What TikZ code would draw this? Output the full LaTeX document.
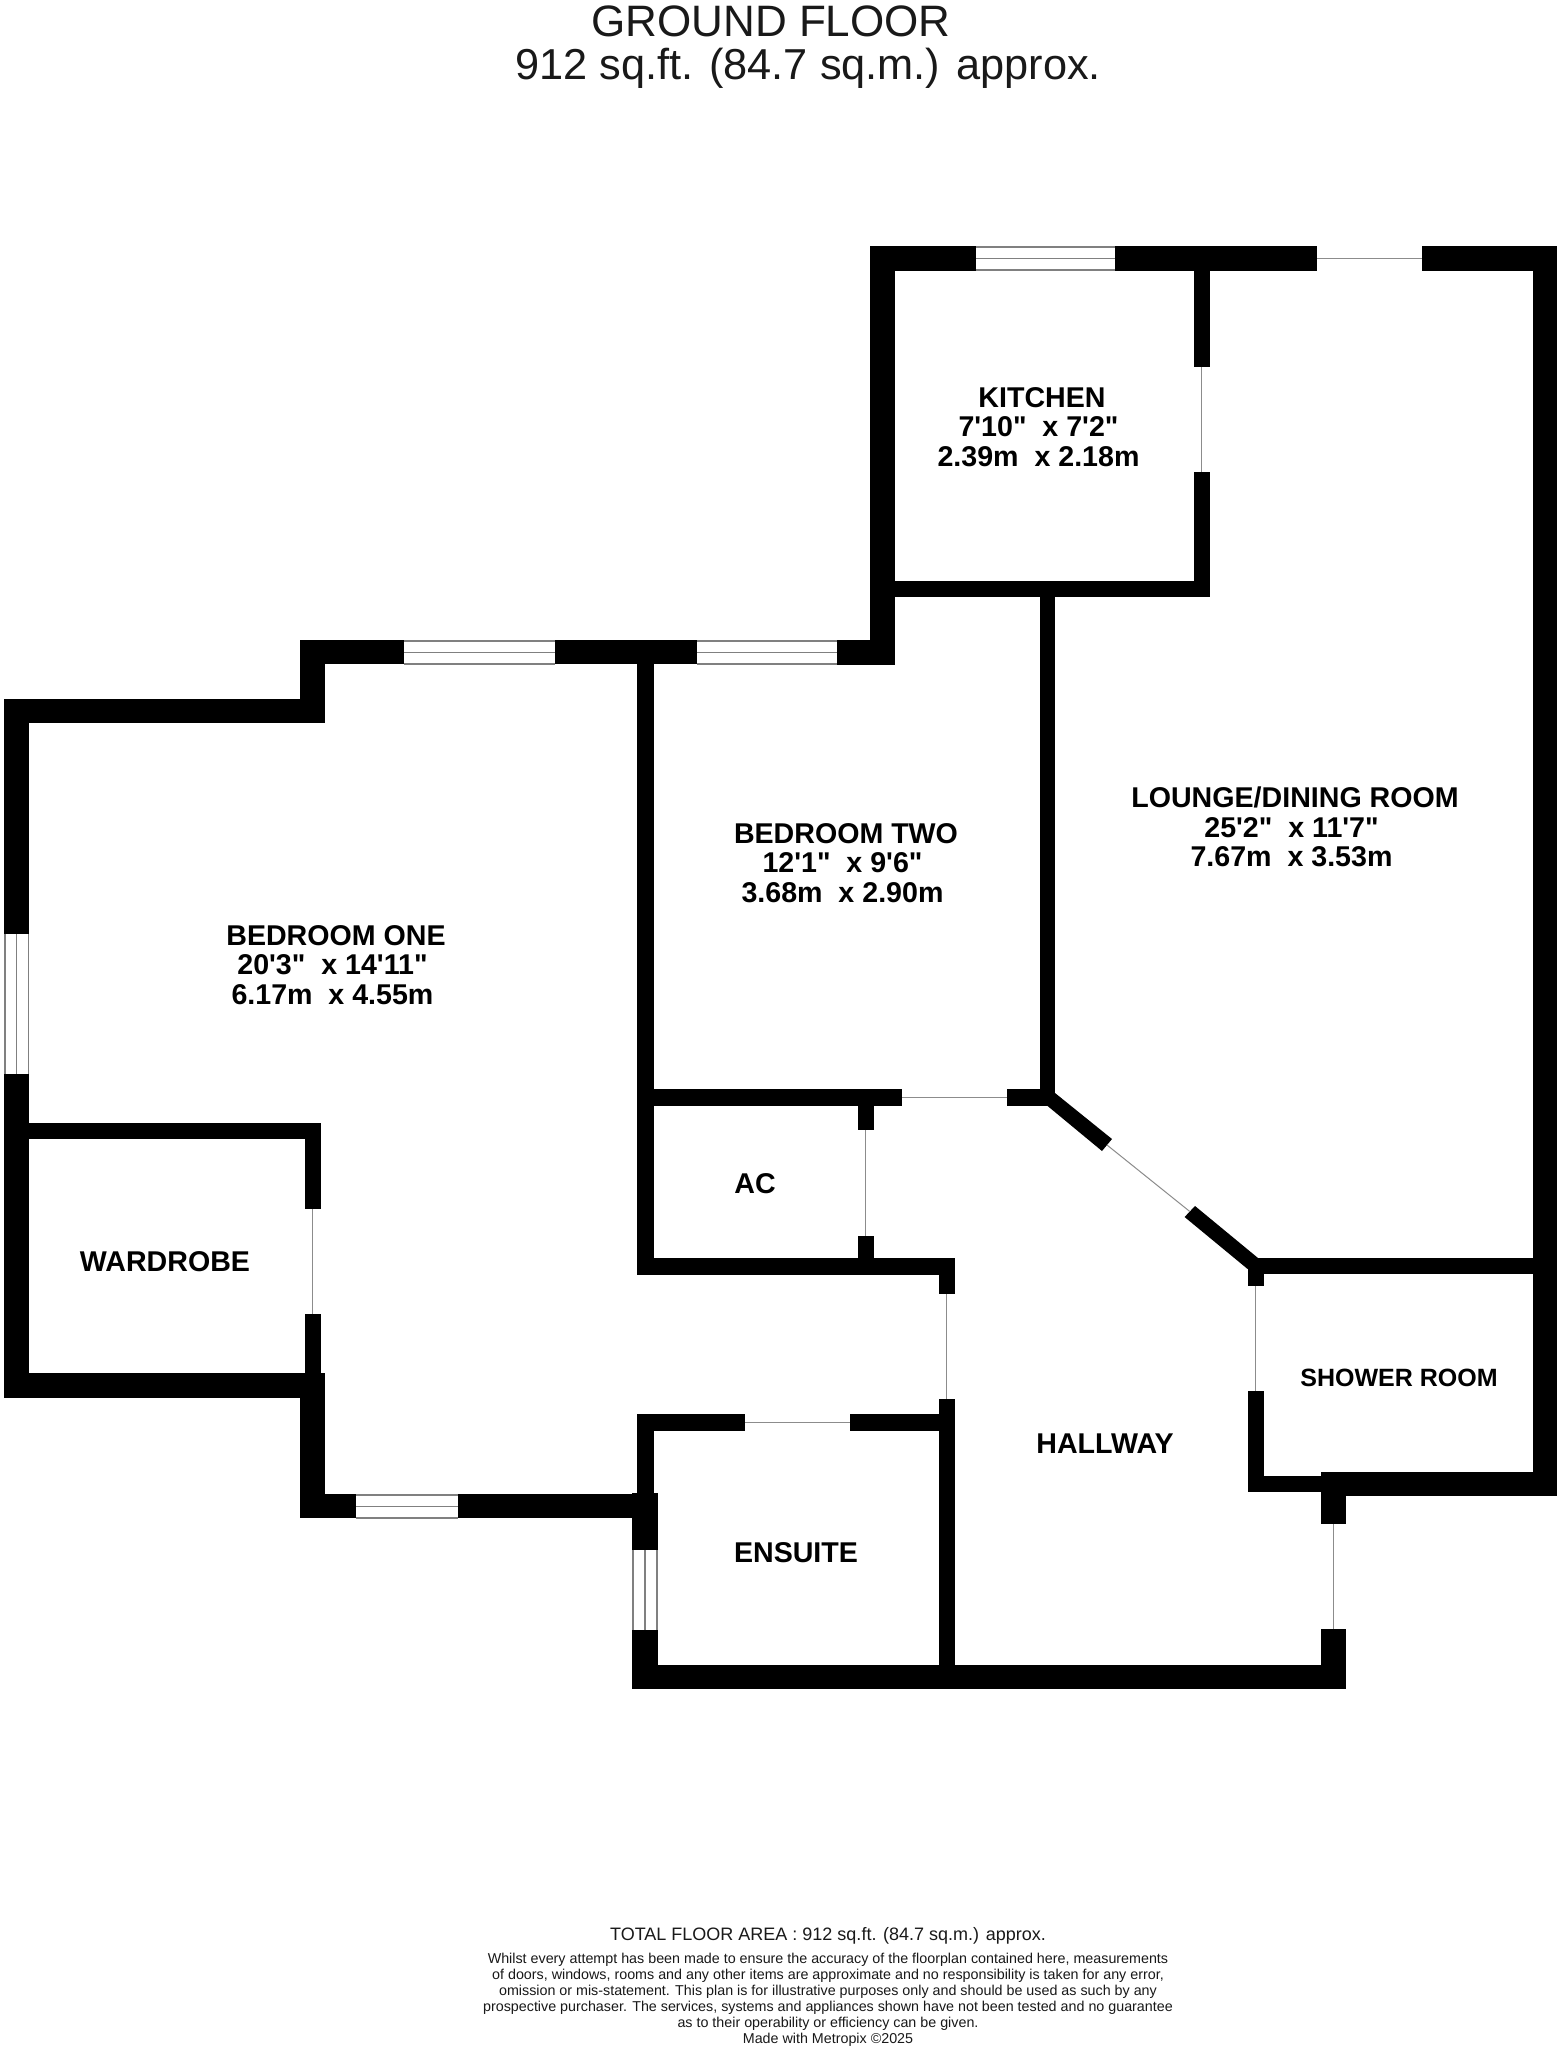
\documentclass[tikz,border=0pt]{standalone}
\usepackage{fontspec}
\newfontfamily\planfont{Liberation Sans}
\newfontfamily\roomfont{Liberation Sans Bold}
\newcommand{\roomtext}{\roomfont\fontsize{28.6}{29.4}\selectfont}
\newcommand{\smallroomtext}{\roomfont\fontsize{25}{29.4}\selectfont}
\tikzset{
  wall/.style={fill=black,draw=none},
  glass/.style={draw=black!50,line width=1.4pt},
  doorline/.style={draw=black!45,line width=1pt},
  label/.style={inner sep=0pt,outer sep=0pt,align=center,text=black,font=\roomtext},
  smalllabel/.style={label,font=\smallroomtext},
  titletext/.style={inner sep=0pt,text=black!90,font=\planfont\fontsize{44}{46}\selectfont},
  areatext/.style={inner sep=0pt,text=black!90,font=\planfont\fontsize{43.3}{46}\selectfont},
  foottext/.style={inner sep=0pt,text=black!90,font=\planfont\fontsize{18}{20}\selectfont},
  notetext/.style={inner sep=0pt,align=center,text=black!90,font=\planfont\fontsize{14.3}{16}\selectfont}
}
\newcommand{\wallbox}[4]{\fill[wall] (#1,#2) rectangle (#3,#4);}
\newcommand{\winH}[4]{% x1 x2 top bottom
  \draw[glass] (#1,#3) -- (#2,#3);
  \draw[glass] (#1,{(#3+#4)/2}) -- (#2,{(#3+#4)/2});
  \draw[glass] (#1,#4) -- (#2,#4);}
\newcommand{\winV}[4]{% y1 y2 left right
  \draw[glass] (#3,#1) -- (#3,#2);
  \draw[glass] ({(#3+#4)/2},#1) -- ({(#3+#4)/2},#2);
  \draw[glass] (#4,#1) -- (#4,#2);}
\newcommand{\tl}{\rule{7pt}{0pt}}
\begin{document}
\begin{tikzpicture}[x=1pt,y=-1pt]
\useasboundingbox (0,0) rectangle (1559,2048);
\fill[white] (0,0) rectangle (1559,2048);

% kitchen and lounge
\wallbox{870}{246}{976}{271}
\wallbox{1115}{246}{1317}{271}
\wallbox{1422}{246}{1557}{271}
\wallbox{870}{246}{895}{665}
\wallbox{1193.5}{271}{1209.5}{367}
\wallbox{1193.5}{472}{1209.5}{597}
\wallbox{895}{581}{1209.5}{597}
\wallbox{1533}{246}{1557}{1496}
\wallbox{1040}{597}{1055}{1106}

% bedroom one
\wallbox{300}{640}{404}{664}
\wallbox{555}{640}{697}{664}
\wallbox{837}{640}{895}{665}
\wallbox{300}{640}{325}{723}
\wallbox{4}{699}{325}{723}
\wallbox{4}{699}{29}{934}
\wallbox{4}{1074}{29}{1398}
\wallbox{637}{664}{653.5}{1275}
\wallbox{29}{1123}{321}{1139}
\wallbox{304.5}{1123}{321}{1209}
\wallbox{304.5}{1314}{321}{1373}
\wallbox{4}{1373}{325}{1398}
\wallbox{300}{1373}{325}{1518}
\wallbox{300}{1494}{356}{1518}
\wallbox{458}{1494}{658}{1518}

% bedroom two, airing cupboard
\wallbox{637}{1089}{902}{1106}
\wallbox{1007}{1089}{1055}{1106}
\wallbox{858}{1106}{874}{1130}
\wallbox{858}{1236}{874}{1258}
\wallbox{637}{1258}{955}{1275}
\wallbox{939}{1258}{955}{1294}

% ensuite
\wallbox{637}{1414}{745}{1431}
\wallbox{850}{1414}{955}{1431}
\wallbox{637}{1414}{653.5}{1494}
\wallbox{632}{1493}{658}{1550}
\wallbox{632}{1630}{658}{1689}
\wallbox{939}{1399}{955}{1689}
\wallbox{632}{1665}{1345}{1689}

% hallway diagonal
\fill[wall] (1046.4,1105) -- (1055,1093) -- (1112,1139) -- (1102,1151) -- cycle;
\fill[wall] (1195,1206) -- (1184.6,1217) -- (1247.6,1269) -- (1258,1258) -- cycle;

% shower room
\wallbox{1248}{1258}{1557}{1274}
\wallbox{1248}{1258}{1264}{1286}
\wallbox{1248}{1391}{1264}{1492}
\wallbox{1248}{1476}{1323}{1492}
\wallbox{1321}{1472}{1557}{1496}
\wallbox{1321}{1472}{1346}{1524}
\wallbox{1321}{1629}{1346}{1689}

% windows
\winH{976}{1115}{247}{270}
\winH{404}{555}{641}{664}
\winH{697}{837}{641}{664}
\winH{356}{458}{1495}{1518}
\winV{934}{1074}{5}{28.5}
\winV{1550}{1630}{633}{657}

% openings
\draw[doorline] (1317,258.5) -- (1422,258.5);
\draw[doorline] (1201,367) -- (1201,472);
\draw[doorline] (902,1097.5) -- (1007,1097.5);
\draw[doorline] (865.5,1130) -- (865.5,1236);
\draw[doorline] (946.5,1294) -- (946.5,1399);
\draw[doorline] (745,1422.5) -- (850,1422.5);
\draw[doorline] (312.5,1209) -- (312.5,1314);
\draw[doorline] (1107,1145) -- (1189.8,1211.5);
\draw[doorline] (1255,1286) -- (1255,1391);
\draw[doorline] (1333,1524) -- (1333,1629);

% texts
\node[titletext] (title) at (771,21) {GROUND FLOOR};
\node[areatext] (area) at (808,68) {912 sq.ft. (84.7 sq.m.) approx.};

\node[label] (kitchen) at (1042,427) {KITCHEN\\7'10"\ \ x 7'2"\tl\\2.39m\ \ x 2.18m\tl};
\node[label] (lounge) at (1295,827) {LOUNGE/DINING ROOM\\25'2"\ \ x 11'7"\tl\\7.67m\ \ x 3.53m\tl};
\node[label] (bedtwo) at (846,863) {BEDROOM TWO\\12'1"\ \ x 9'6"\tl\\3.68m\ \ x 2.90m\tl};
\node[label] (bedone) at (336,965) {BEDROOM ONE\\20'3"\ \ x 14'11"\tl\\6.17m\ \ x 4.55m\tl};
\node[label] (ac) at (755,1184) {AC};
\node[label] (wardrobe) at (165,1262) {WARDROBE};
\node[smalllabel] (shower) at (1399,1378) {SHOWER ROOM};
\node[label] (hallway) at (1105,1444) {HALLWAY};
\node[label] (ensuite) at (796,1553) {ENSUITE};

\node[foottext] (total) at (828,1936) {TOTAL FLOOR AREA : 912 sq.ft. (84.7 sq.m.) approx.};
\node[notetext,anchor=north] (note) at (828,1953) {Whilst every attempt has been made to ensure the accuracy of the floorplan contained here, measurements\\
of doors, windows, rooms and any other items are approximate and no responsibility is taken for any error,\\
omission or mis-statement. This plan is for illustrative purposes only and should be used as such by any\\
prospective purchaser. The services, systems and appliances shown have not been tested and no guarantee\\
as to their operability or efficiency can be given.\\
Made with Metropix \textcopyright 2025};
\end{tikzpicture}
\end{document}
